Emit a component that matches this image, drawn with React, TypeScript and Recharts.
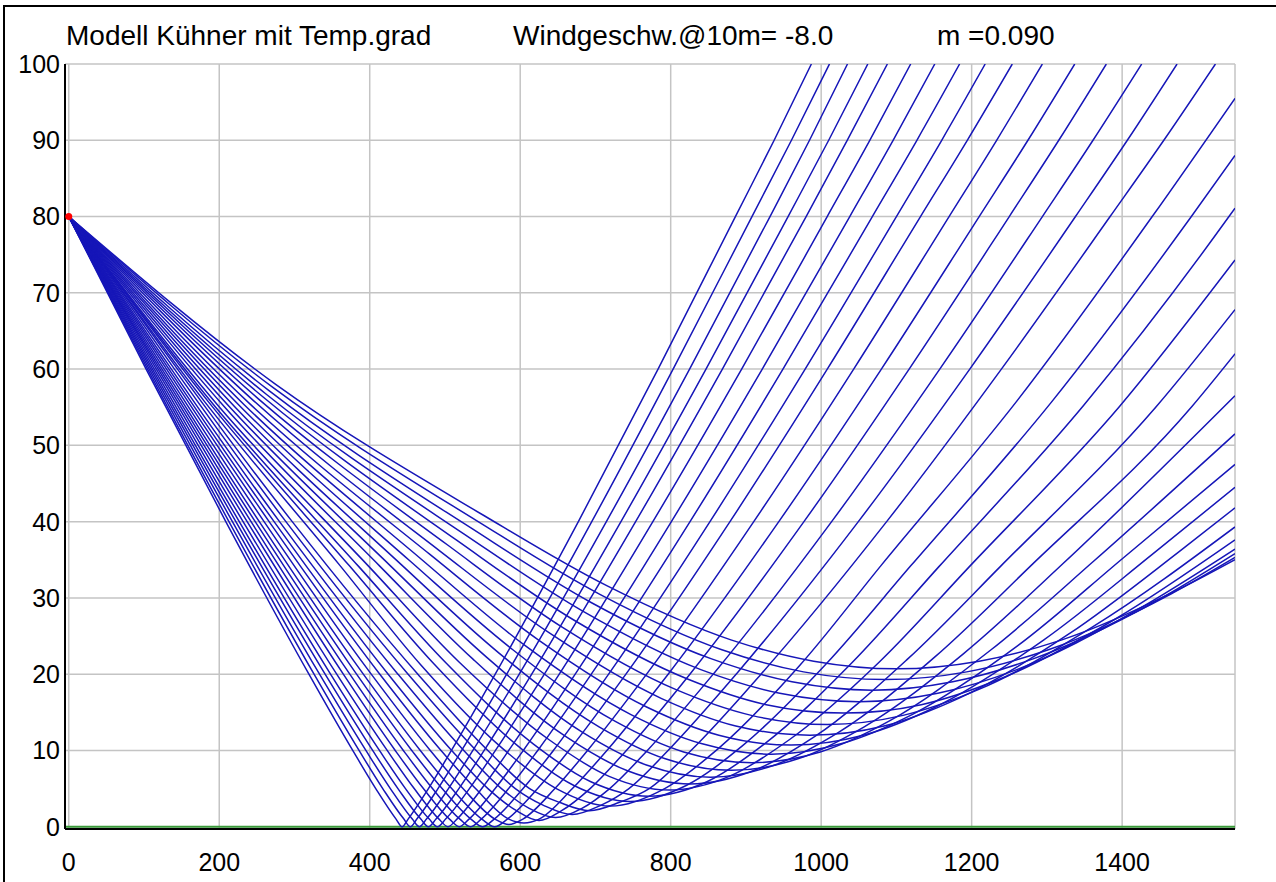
import React from 'react';
import { LineChart, Line, XAxis, YAxis, CartesianGrid, ReferenceLine, ReferenceDot } from 'recharts';

// Ray paths: [distance, height]
const ray01 = [[0,80],[102.8,60],[208.7,40],[319.2,20],[377.4,10],[408,5],[435,1],[443,0],[451,1],[478,5],[508.6,10],[566.8,20],[677.3,40],[783.2,60],[886,80],[937.5,90],[987,100]];
const ray02 = [[0,80],[104.8,60],[212.9,40],[326,20],[385.8,10],[417.3,5],[445.4,1],[454,0],[462.6,1],[490.7,5],[522.2,10],[582,20],[695.1,40],[803.2,60],[908,80],[960.5,90],[1011,100]];
const ray03 = [[0,80],[106.9,60],[217.5,40],[333.3,20],[394.9,10],[427.4,5],[456.6,1],[466,0],[475.4,1],[504.6,5],[537.1,10],[598.7,20],[714.5,40],[825.1,60],[932,80],[984.5,90],[1035,100]];
const ray04 = [[0,80],[109.1,60],[222.1,40],[340.7,20],[403.9,10],[437.5,5],[467.9,1],[478,0],[488.1,1],[518.5,5],[552.1,10],[615.3,20],[733.9,40],[846.9,60],[956,80],[1010,90],[1062,100]];
const ray05 = [[0,80],[111.3,60],[226.6,40],[347.9,20],[412.9,10],[447.5,5],[479.1,1],[490,0],[500.9,1],[532.5,5],[567.1,10],[632.1,20],[753.4,40],[868.7,60],[980,80],[1034.6,90],[1088,100]];
const ray06 = [[0,80],[113.7,60],[231.7,40],[356.1,20],[423.2,10],[459.1,5],[492.1,1],[504,0],[515.9,1],[548.9,5],[584.8,10],[651.9,20],[776.3,40],[894.3,60],[1008,80],[1064.6,90],[1119,100]];
const ray07 = [[0,80],[116.3,60],[237.1,40],[364.9,20],[433.9,10],[471.3,5],[506,1],[519,0],[532,1],[566.7,5],[604.1,10],[673.1,20],[800.9,40],[921.7,60],[1038,80],[1095.6,90],[1151,100]];
const ray08 = [[0,80],[118.8,60],[242.3,40],[373.5,20],[444.7,10],[483.4,5],[519.8,1],[534,0],[548.2,1],[584.6,5],[623.3,10],[694.5,20],[825.7,40],[949.2,60],[1068,80],[1127.2,90],[1184,100]];
const ray09 = [[0,80],[121.3,60],[247.8,40],[382.5,20],[455.9,10],[496.2,5],[534.5,1],[550,0],[565.5,1],[603.8,5],[644.1,10],[717.5,20],[852.2,40],[978.7,60],[1100,80],[1160.2,90],[1218,100]];
const ray10 = [[0,80],[123.9,60],[253.2,40],[391.5,20],[467.2,10],[508.9,5],[549.1,1],[566,0],[582.9,1],[623.1,5],[664.8,10],[740.5,20],[878.8,40],[1008.1,60],[1132,80],[1194.2,90],[1254,100]];
const ray11 = [[0,80],[126.8,60],[259.6,40],[402,20],[480.5,10],[523.9,5],[566.5,1],[585,0.3],[603.5,1],[646.1,5],[689.5,10],[768,20],[910.4,40],[1043.2,60],[1170,80],[1233.2,90],[1294,100]];
const ray12 = [[0,80],[130,60],[266.3,40],[413.4,20],[494.8,10],[540.6,5],[584.9,1],[605,0.5],[625.1,1],[669.4,5],[715.2,10],[796.6,20],[943.7,40],[1080,60],[1210,80],[1274.8,90],[1337,100]];
const ray13 = [[0,80],[133.1,60],[272.9,40],[424.5,20],[508.9,10],[557.1,5],[595,2.1],[625,0.8],[655,2.1],[692.9,5],[741.1,10],[825.5,20],[977.1,40],[1116.9,60],[1250,80],[1315.8,90],[1379,100]];
const ray14 = [[0,80],[136.4,60],[280.1,40],[437.5,20],[525,10],[575.1,5],[612,2.4],[647,1.2],[682,2.4],[718.9,5],[769,10],[856.5,20],[1013.9,40],[1157.6,60],[1294,80],[1361.3,90],[1426,100]];
const ray15 = [[0,80],[140.5,60],[288.6,40],[451,20],[541.5,10],[593.5,5],[631,2.8],[669,1.6],[707,2.8],[744.5,5],[796.5,10],[887,20],[1049.4,40],[1197.5,60],[1338,80],[1406.9,90],[1473,100]];
const ray16 = [[0,80],[144.5,60],[297,40],[464,20],[557,10],[612.5,5],[652,3.2],[692,2.1],[732,3.2],[771.5,5],[827,10],[920,20],[1087,40],[1239.5,60],[1384,80],[1455.4,90],[1524,100]];
const ray17 = [[0,80],[180,55.8],[360,34.3],[468,21.2],[576,10.3],[648,5.0],[720,2.7],[792,5.0],[864,10.3],[972,21.2],[1080,34.3],[1260,55.8],[1440,80],[1550,95.5]];
const ray18 = [[0,80],[186.5,55.6],[373,34.2],[484.9,21.4],[596.8,10.6],[671.4,5.4],[746,3.3],[820.6,5.4],[895.2,10.6],[1007.1,21.4],[1119,34.2],[1305.5,55.6],[1492,80],[1550,88]];
const ray19 = [[0,80],[192.75,55.3],[385.5,34.1],[501.15,21.5],[616.8,10.9],[693.9,5.9],[771,4],[848.1,5.9],[925.2,10.9],[1040.85,21.5],[1156.5,34.1],[1349.25,55.3],[1542,80],[1550,81.1]];
const ray20 = [[0,80],[199.5,55.1],[399,34.1],[518.7,21.6],[638.4,11.4],[718.2,6.6],[798,4.8],[877.8,6.6],[957.6,11.4],[1077.3,21.6],[1197,34.1],[1396.5,55.1],[1550,74.3]];
const ray21 = [[0,80],[206.5,55.1],[413,34.2],[536.9,22],[660.8,11.8],[743.4,7.3],[826,5.6],[908.6,7.3],[991.2,11.8],[1115.1,22],[1239,34.2],[1445.5,55.1],[1550,67.8]];
const ray22 = [[0,80],[213.25,55.1],[426.5,34.3],[554.45,22.3],[682.4,12.4],[767.7,8.1],[853,6.5],[938.3,8.1],[1023.6,12.4],[1151.55,22.3],[1279.5,34.3],[1492.75,55.1],[1550,62]];
const ray23 = [[0,80],[220.25,55.1],[440.5,34.5],[572.65,22.7],[704.8,13.1],[792.9,8.9],[881,7.4],[969.1,8.9],[1057.2,13.1],[1189.35,22.7],[1321.5,34.5],[1550,56.5]];
const ray24 = [[0,80],[227,55.2],[454,34.8],[590.2,23.2],[726.4,13.8],[817.2,9.8],[908,8.4],[998.8,9.8],[1089.6,13.8],[1225.8,23.2],[1362,34.8],[1550,51.5]];
const ray25 = [[0,80],[233.5,55.3],[467,35.2],[607.1,23.7],[747.2,14.7],[840.6,10.9],[934,9.5],[1027.4,10.9],[1120.8,14.7],[1260.9,23.7],[1401,35.2],[1550,47.5]];
const ray26 = [[0,80],[240,55.5],[480,35.7],[624,24.5],[768,15.7],[864,12],[960,10.7],[1056,12],[1152,15.7],[1296,24.5],[1440,35.7],[1550,44.5]];
const ray27 = [[0,80],[246.25,55.8],[492.5,36.2],[640.25,25.3],[788,16.8],[886.5,13.2],[985,12],[1083.5,13.2],[1182,16.8],[1329.75,25.3],[1477.5,36.2],[1550,41.8]];
const ray28 = [[0,80],[252,56.1],[504,36.9],[655.2,26.2],[806.4,18],[907.2,14.6],[1008,13.4],[1108.8,14.6],[1209.6,18],[1360.8,26.2],[1550,39.3]];
const ray29 = [[0,80],[257.5,56.4],[515,37.6],[669.5,27.2],[824,19.3],[927,16],[1030,14.9],[1133,16],[1236,19.3],[1390.5,27.2],[1550,37.6]];
const ray30 = [[0,80],[262.5,56.7],[525,38.4],[682.5,28.3],[840,20.6],[945,17.5],[1050,16.4],[1155,17.5],[1260,20.6],[1417.5,28.3],[1550,36.4]];
const ray31 = [[0,80],[267,57.1],[534,39.2],[694.2,29.4],[854.4,22],[961.2,19],[1068,17.9],[1174.8,19],[1281.6,22],[1441.8,29.4],[1550,35.8]];
const ray32 = [[0,80],[271.25,57.6],[542.5,40.1],[705.25,30.5],[868,23.2],[976.5,20.3],[1085,19.3],[1193.5,20.3],[1302,23.2],[1464.75,30.5],[1550,35.3]];
const ray33 = [[0,80],[275,58],[550,40.9],[715,31.6],[880,24.5],[990,21.7],[1100,20.7],[1210,21.7],[1320,24.5],[1485,31.6],[1550,35]];

const rays = [ray01, ray02, ray03, ray04, ray05, ray06, ray07, ray08, ray09, ray10, ray11,
  ray12, ray13, ray14, ray15, ray16, ray17, ray18, ray19, ray20, ray21, ray22,
  ray23, ray24, ray25, ray26, ray27, ray28, ray29, ray30, ray31, ray32, ray33];

const xTicks = [0, 200, 400, 600, 800, 1000, 1200, 1400];
const yTicks = [0, 10, 20, 30, 40, 50, 60, 70, 80, 90, 100];
const xDomain = [-5, 1550];
const yDomain = [-0.3, 100];
const source = { x: 0, y: 80 };
const groundLevel = 0;
const titleParts = ['Modell Kühner mit Temp.grad', 'Windgeschw.@10m= -8.0', 'm =0.090'];
const titleLeft = [66, 513, 937];

const FONT = '"Liberation Sans", Arial, Helvetica, sans-serif';

export default function App() {
  const series = rays.map((r) => r.map(([x, y]) => ({ x, y })));
  return (
    <div style={{ position: 'absolute', left: 0, top: 0, width: 1276, height: 882, background: '#fff', fontFamily: FONT, overflow: 'hidden' }}>
      <div style={{ position: 'absolute', left: 3, top: 5, right: 0, bottom: 0, borderLeft: '2px solid #000', borderTop: '2px solid #000' }} />
      {titleParts.map((t, i) => (
        <div key={i} style={{ position: 'absolute', left: titleLeft[i], top: 20, fontSize: 28, lineHeight: '32px', color: '#000', whiteSpace: 'pre' }}>{t}</div>
      ))}
      <LineChart width={1276} height={882} margin={{ top: 64, right: 41, bottom: 0, left: 0 }} style={{ position: 'absolute', left: 0, top: 0 }}>
        <CartesianGrid stroke="#c4c4c4" strokeWidth={1.5} />
        <XAxis type="number" dataKey="x" domain={xDomain} ticks={xTicks} allowDataOverflow height={53}
          tickLine={false} tickSize={0} tickMargin={24} axisLine={{ stroke: '#000', strokeWidth: 2 }}
          tick={{ fill: '#000', fontSize: 25, fontFamily: FONT }} />
        <XAxis xAxisId="top" orientation="top" type="number" domain={xDomain} allowDataOverflow height={0}
          tick={false} tickLine={false} axisLine={{ stroke: '#000', strokeWidth: 2 }} />
        <YAxis type="number" domain={yDomain} ticks={yTicks} allowDataOverflow width={65}
          tickLine={false} tickSize={0} tickMargin={5} axisLine={{ stroke: '#000', strokeWidth: 2 }}
          tick={{ fill: '#000', fontSize: 25, fontFamily: FONT }} />
        <YAxis yAxisId="right" orientation="right" type="number" domain={yDomain} allowDataOverflow width={0}
          tick={false} tickLine={false} axisLine={{ stroke: '#000', strokeWidth: 2 }} />
        <ReferenceLine y={groundLevel} stroke="#3a9a3a" strokeWidth={2} />
        {series.map((d, i) => (
          <Line key={i} data={d} dataKey="y" type="monotone" stroke="#1616b8" strokeWidth={1.5}
            dot={false} activeDot={false} isAnimationActive={false} />
        ))}
        <ReferenceDot x={source.x} y={source.y} r={3.5} fill="#ff0000" stroke="none" />
      </LineChart>
    </div>
  );
}
